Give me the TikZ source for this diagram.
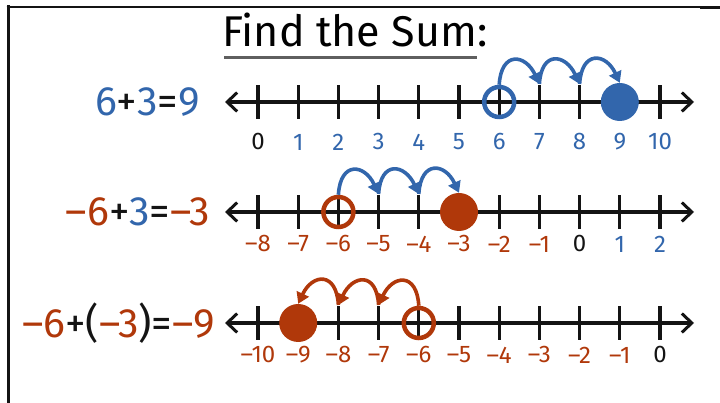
\documentclass[tikz,border=0pt]{standalone}
\usepackage{fontspec}
\setmainfont{Fira Sans}
\usetikzlibrary{arrows.meta, positioning, calc}
\definecolor{sumBlue}{RGB}{50,102,172}
\definecolor{sumRed}{RGB}{176,56,10}
\definecolor{ink}{RGB}{20,20,20}
\definecolor{ruleGray}{RGB}{95,95,95}

\begin{document}
\begin{tikzpicture}[x=1pt, y=1pt,
  numline/.style={line width=4pt, draw=ink,
    {Straight Barb[length=10pt,width=19pt,line width=3pt]}-{Straight Barb[length=10pt,width=19pt,line width=3pt]}},
  tickmark/.style={line width=3.2pt, draw=ink},
  num/.style={font=\fontsize{24}{26}\selectfont, inner sep=0pt},
  eqn/.style={font=\fontsize{41}{44}\selectfont, inner sep=0pt},
  titletext/.style={font=\fontsize{43}{46}\selectfont, inner sep=0pt},
  opendot/.style={circle, draw=#1, line width=4.5pt, minimum size=30pt, inner sep=0pt},
  fulldot/.style={circle, fill=#1, minimum size=38pt, inner sep=0pt},
  hop/.style={line width=3.6pt, draw=#1, -{Triangle[length=11pt,width=13pt]}}
]
\useasboundingbox (0,0) rectangle (720,403);
\draw[line width=3pt, draw=ink] (8,0) -- (8,397.5);
\draw[line width=1.5pt, draw=ink] (6.5,396) -- (720,396);
\draw[line width=2.6pt, draw=ink] (6.5,396) -- (22,396);
\draw[line width=2.6pt, draw=ink] (700,395.5) -- (720,395.5);

\node[titletext, anchor=base west] (title) at (222,356) {Find the Sum};
\node[titletext, anchor=base west] (colon) at (title.base east) {:};
\draw[line width=3pt, draw=ruleGray] ($(title.base west)+(2,-11)$) -- ($(title.base east)+(0,-11)$);

\foreach \row/\y/\lo/\gap in {pos/301/0/40, mix/191/-8/32, neg/80/-10/32} {
  \coordinate (\row-L) at (225,\y);
  \coordinate (\row-R) at (694,\y);
  \draw[numline] (\row-L) -- (\row-R);
  \foreach \i in {0,...,10} {
    \coordinate (\row-\i) at ({258+40.2*\i},\y);
    \coordinate (\row-top\i) at ($(\row-\i)+(0,18)$);
    \draw[tickmark] ($(\row-\i)+(0,-17)$) -- ($(\row-\i)+(0,17)$);
    \pgfmathtruncatemacro\v{\lo+\i}
    \pgfmathtruncatemacro\av{abs(\v)}
    \ifnum\v<0
      \node[num, text=sumRed] (\row-n\i) at ($(\row-\i)+(0,-\gap)$) {–\av};
    \else\ifnum\v=0
      \node[num, text=ink] (\row-n\i) at ($(\row-\i)+(0,-\gap)$) {0};
    \else
      \node[num, text=sumBlue] (\row-n\i) at ($(\row-\i)+(0,-\gap)$) {\v};
    \fi\fi
  }
}

\node[eqn, left=25pt of pos-L] (eq1)
  {\textcolor{sumBlue}{6}\textcolor{ink}{+}\textcolor{sumBlue}{3}\textcolor{ink}{=}\textcolor{sumBlue}{9}};
\node[eqn, left=15pt of mix-L] (eq2)
  {\textcolor{sumRed}{–6}\textcolor{ink}{+}\textcolor{sumBlue}{3}\textcolor{ink}{=}\textcolor{sumRed}{–3}};
\node[eqn, left=10pt of neg-L] (eq3)
  {\textcolor{sumRed}{–6}\textcolor{ink}{+(}\textcolor{sumRed}{–3}\textcolor{ink}{)=}\textcolor{sumRed}{–9}};

\node[opendot=sumBlue] (start1) at (pos-6) {};
\node[fulldot=sumBlue] (end1) at (pos-9) {};
\node[opendot=sumRed] (start2) at (mix-2) {};
\node[fulldot=sumRed] (end2) at (mix-5) {};
\node[opendot=sumRed] (start3) at (neg-4) {};
\node[fulldot=sumRed] (end3) at (neg-1) {};

\foreach \s/\e in {start1.north/pos-top7, pos-top7/pos-top8, pos-top8/end1.north}
  \draw[hop=sumBlue] (\s) .. controls +(2,34) and +(-14,30) .. (\e);
\foreach \s/\e in {start2.north/mix-top3, mix-top3/mix-top4, mix-top4/end2.north}
  \draw[hop=sumBlue] (\s) .. controls +(2,34) and +(-14,30) .. (\e);
\foreach \s/\e in {start3.north/neg-top3, neg-top3/neg-top2, neg-top2/end3.north}
  \draw[hop=sumRed] (\s) .. controls +(-2,34) and +(14,30) .. (\e);
\end{tikzpicture}
\end{document}
